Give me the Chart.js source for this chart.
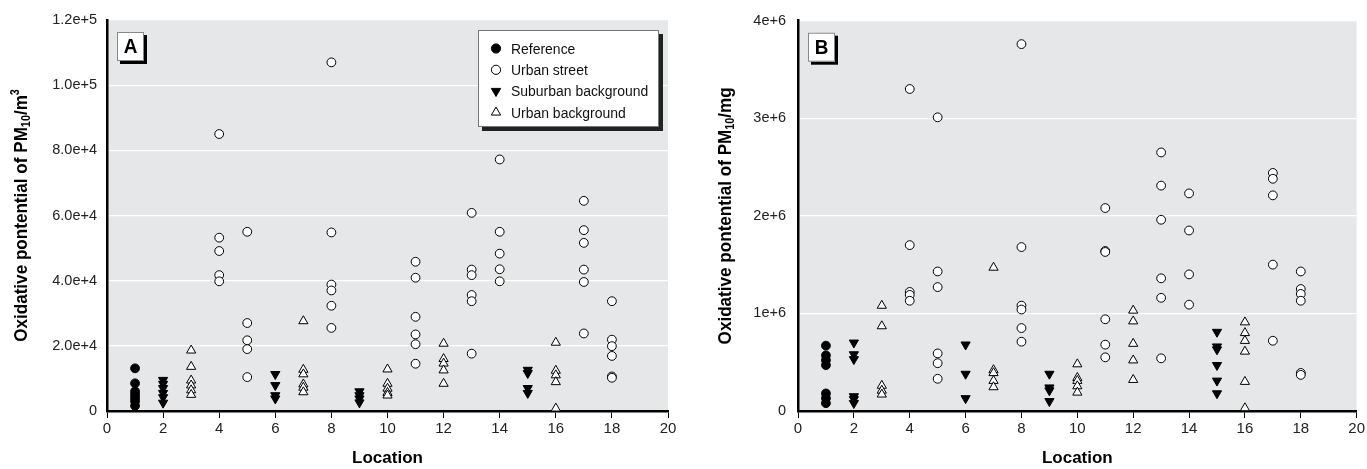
<!DOCTYPE html>
<html>
<head>
<meta charset="utf-8">
<script src="https://cdn.jsdelivr.net/npm/chart.js@4.4.1/dist/chart.umd.min.js"></script>
<style>
  html, body { margin: 0; padding: 0; background: #fff; }
  body { width: 1367px; height: 469px; position: relative; overflow: hidden; }
  .panel { position: absolute; top: 0; height: 469px; }
  #wrapA { left: 0; width: 683px; }
  #wrapB { left: 683px; width: 684px; }
</style>
</head>
<body>
<div class="panel" id="wrapA"><canvas id="chartA"></canvas></div>
<div class="panel" id="wrapB"><canvas id="chartB"></canvas></div>
<script>
// --- data, panel A (per m3) ---
const refLocA = [1, 1, 1, 1, 1, 1, 1];
const refValA = [13100, 8500, 6000, 5000, 4000, 3000, 1600];

const streetLocA = [4, 4, 4, 4, 4, 5, 5, 5, 5, 5, 8, 8, 8, 8, 8, 8, 11, 11, 11, 11, 11, 11,
  13, 13, 13, 13, 13, 13, 14, 14, 14, 14, 14, 17, 17, 17, 17, 17, 17, 18, 18, 18, 18, 18, 18];
const streetValA = [85000, 53200, 49100, 41700, 39800, 55000, 27000, 21700, 19000, 10400,
  107000, 54800, 38800, 37000, 32300, 25500, 45800, 40900, 28900, 23500, 20500, 14500,
  60800, 43400, 41700, 35600, 33700, 17600, 77200, 55000, 48300, 43500, 39800,
  64500, 55500, 51600, 43400, 39600, 23800, 33700, 21900, 19900, 16900, 10600, 10200];

const suburbLocA = [2, 2, 2, 2, 2, 2, 6, 6, 6, 6, 9, 9, 9, 9, 15, 15, 15, 15];
const suburbValA = [9500, 8300, 7000, 5500, 4200, 2500, 11300, 7900, 4800, 3800,
  6000, 4800, 3800, 2600, 12600, 11600, 7000, 5500];

const urbanBgLocA = [3, 3, 3, 3, 3, 3, 7, 7, 7, 7, 7, 7, 10, 10, 10, 10, 10, 12, 12, 12, 12, 12, 16, 16, 16, 16, 16];
const urbanBgValA = [18600, 13600, 9400, 7900, 6400, 5000, 27600, 12700, 11300, 8200, 7200, 5800,
  12800, 8400, 6900, 5600, 4800, 20700, 16000, 14600, 12500, 8400, 21000, 12400, 11000, 8900, 800];

// --- data, panel B (per mg) ---
const refLocB = [1, 1, 1, 1, 1, 1, 1];
const refValB = [670000, 570000, 520000, 470000, 180000, 130000, 80000];

const streetLocB = [4, 4, 4, 4, 4, 5, 5, 5, 5, 5, 5, 8, 8, 8, 8, 8, 8, 11, 11, 11, 11, 11, 11,
  13, 13, 13, 13, 13, 13, 14, 14, 14, 14, 17, 17, 17, 17, 17, 18, 18, 18, 18, 18, 18];
const streetValB = [3300000, 1700000, 1220000, 1190000, 1130000, 3010000, 1430000, 1270000, 590000, 490000, 330000,
  3760000, 1680000, 1080000, 1040000, 850000, 710000, 2080000, 1640000, 1630000, 940000, 680000, 550000,
  2650000, 2310000, 1960000, 1360000, 1160000, 540000, 2230000, 1850000, 1400000, 1090000,
  2440000, 2380000, 2210000, 1500000, 720000, 1430000, 1250000, 1200000, 1130000, 390000, 370000];

const suburbLocB = [2, 2, 2, 2, 2, 2, 6, 6, 6, 9, 9, 9, 9, 15, 15, 15, 15, 15, 15];
const suburbValB = [700000, 580000, 530000, 150000, 120000, 80000, 680000, 380000, 130000,
  380000, 240000, 210000, 100000, 810000, 660000, 630000, 470000, 310000, 180000];

const urbanBgLocB = [3, 3, 3, 3, 3, 7, 7, 7, 7, 7, 10, 10, 10, 10, 10, 12, 12, 12, 12, 12, 16, 16, 16, 16, 16, 16];
const urbanBgValB = [1080000, 870000, 260000, 210000, 170000, 1470000, 420000, 390000, 310000, 245000,
  480000, 340000, 310000, 255000, 190000, 1030000, 920000, 690000, 520000, 320000,
  910000, 800000, 720000, 610000, 300000, 30000];

// --- labels ---
const seriesNames = ['Reference', 'Urban street', 'Suburban background', 'Urban background'];
const yTicksA = ['0', '2.0e+4', '4.0e+4', '6.0e+4', '8.0e+4', '1.0e+5', '1.2e+5'];
const yTicksB = ['0', '1e+6', '2e+6', '3e+6', '4e+6'];

const FONT = '"Liberation Sans", Arial, sans-serif';
const PLOT_BG = '#e6e7e8';
const NARROW = 0.9; // the original uses a condensed face; squeeze our own drawn text a bit

function pts(locs, vals) {
  return locs.map((x, i) => ({ x: x, y: vals[i] }));
}

// marker styles per series (filled circle, open circle, filled down-triangle, open triangle)
const markerStyles = [
  { pointStyle: 'circle', pointRadius: 4.4, pointRotation: 0, pointBackgroundColor: '#000' },
  { pointStyle: 'circle', pointRadius: 4.4, pointRotation: 0, pointBackgroundColor: '#fff' },
  { pointStyle: 'triangle', pointRadius: 5.3, pointRotation: 180, pointBackgroundColor: '#000' },
  { pointStyle: 'triangle', pointRadius: 5.3, pointRotation: 0, pointBackgroundColor: '#fff' }
];

function makeDatasets(sets) {
  return sets.map((d, i) => Object.assign({
    label: seriesNames[i],
    data: d,
    pointBorderColor: '#000',
    pointBorderWidth: 1,
    pointHoverRadius: 5
  }, markerStyles[i]));
}

function narrowText(ctx, text, x, y) {
  ctx.save();
  ctx.translate(x, y);
  ctx.scale(NARROW, 1);
  ctx.fillText(text, 0, 0);
  ctx.restore();
}

// plot background, panel letter, legend, y title with sub/superscripts
const decorPlugin = {
  id: 'decor',
  beforeDraw(chart) {
    const a = chart.chartArea;
    const ctx = chart.ctx;
    ctx.save();
    ctx.fillStyle = PLOT_BG;
    ctx.fillRect(a.left, a.top, a.right - a.left, a.bottom - a.top);
    ctx.restore();
  },
  afterDraw(chart) {
    const o = chart.options.plugins.decor;
    const a = chart.chartArea;
    const ctx = chart.ctx;
    ctx.save();

    // panel letter box
    const bx = a.left + 10, by = a.top + 12, bw = 27, bh = 29;
    ctx.fillStyle = '#000';
    ctx.fillRect(bx + 3, by + 3, bw, bh);
    ctx.fillStyle = '#fff';
    ctx.fillRect(bx, by, bw, bh);
    ctx.strokeStyle = '#888';
    ctx.lineWidth = 1;
    ctx.strokeRect(bx + 0.5, by + 0.5, bw - 1, bh - 1);
    ctx.fillStyle = '#000';
    ctx.font = 'bold 21px ' + FONT;
    ctx.textAlign = 'center';
    ctx.textBaseline = 'middle';
    narrowText(ctx, o.letter, bx + bw / 2, by + bh / 2 + 1);

    // legend box (panel A only)
    if (o.legend) {
      const lw = 181, lh = 97;
      const lx = a.right - 9 - lw, ly = a.top + 10;
      ctx.fillStyle = '#222';
      ctx.fillRect(lx + 4, ly + 4, lw, lh);
      ctx.fillStyle = '#fff';
      ctx.fillRect(lx, ly, lw, lh);
      ctx.strokeStyle = '#777';
      ctx.strokeRect(lx + 0.5, ly + 0.5, lw - 1, lh - 1);
      ctx.font = '15.5px ' + FONT;
      ctx.textAlign = 'left';
      ctx.textBaseline = 'middle';
      chart.data.datasets.forEach((ds, i) => {
        const yy = ly + 18.5 + i * 21.3;
        ctx.fillStyle = ds.pointBackgroundColor;
        ctx.strokeStyle = '#000';
        ctx.lineWidth = 1;
        Chart.helpers.drawPoint(ctx, {
          pointStyle: ds.pointStyle,
          radius: ds.pointStyle === 'circle' ? 4.6 : 5.4,
          rotation: ds.pointRotation,
          borderWidth: 1
        }, lx + 18, yy);
        ctx.fillStyle = '#111';
        narrowText(ctx, ds.label, lx + 33, yy + 1);
      });
    }

    // y axis title, rotated, with PM10 subscript and unit superscript
    const parts = o.yTitle;
    const big = 'bold 19px ' + FONT, small = 'bold 12px ' + FONT;
    let total = 0;
    parts.forEach(p => { ctx.font = p.s ? small : big; total += ctx.measureText(p.t).width; });
    ctx.translate(o.yTitleX, (a.top + a.bottom) / 2);
    ctx.rotate(-Math.PI / 2);
    ctx.scale(NARROW, 1);
    ctx.fillStyle = '#000';
    ctx.textAlign = 'left';
    ctx.textBaseline = 'middle';
    let x = -total / 2;
    parts.forEach(p => {
      ctx.font = p.s ? small : big;
      ctx.fillText(p.t, x, p.s === 'sub' ? 5 : (p.s === 'sup' ? -6 : 0));
      x += ctx.measureText(p.t).width;
    });
    ctx.restore();
  }
};

function makeChart(id, sets, yMax, yStep, yLabels, cfg) {
  return new Chart(document.getElementById(id), {
    type: 'scatter',
    data: { datasets: makeDatasets(sets) },
    plugins: [decorPlugin],
    options: {
      responsive: true,
      maintainAspectRatio: false,
      animation: false,
      layout: { padding: { top: cfg.padTop, right: cfg.padRight, bottom: 0, left: 0 } },
      plugins: {
        legend: { display: false },
        tooltip: { enabled: true },
        decor: { letter: cfg.letter, legend: cfg.legend, yTitle: cfg.yTitle, yTitleX: cfg.yTitleX }
      },
      scales: {
        x: {
          type: 'linear',
          min: 0, max: 20,
          border: { display: true, color: '#000', width: 2.5 },
          grid: { drawOnChartArea: false, drawTicks: true, tickLength: 7, color: '#000', lineWidth: 1 },
          ticks: { stepSize: 2, color: '#222', font: { family: FONT, size: 15 }, padding: 2 },
          title: {
            display: true, text: 'Location', color: '#000',
            font: { family: FONT, size: 17, weight: 'bold' },
            padding: { top: 0, bottom: 0 }
          },
          afterFit(scale) { scale.height = 58; }
        },
        y: {
          type: 'linear',
          min: 0, max: yMax,
          border: { display: true, color: '#000', width: 2.5 },
          grid: { color: '#fff', lineWidth: 1.2, drawTicks: false },
          ticks: {
            stepSize: yStep,
            color: '#222',
            font: { family: FONT, size: 14.5 },
            padding: cfg.tickPad,
            callback: (v, i) => yLabels[i]
          },
          afterFit(scale) { scale.width = cfg.yWidth; }
        }
      }
    }
  });
}

document.addEventListener('DOMContentLoaded', () => {
  makeChart('chartA',
    [pts(refLocA, refValA), pts(streetLocA, streetValA), pts(suburbLocA, suburbValA), pts(urbanBgLocA, urbanBgValA)],
    120000, 20000, yTicksA,
    {
      letter: 'A', legend: true, padTop: 20, padRight: 15, yWidth: 107, tickPad: 10, yTitleX: 22,
      yTitle: [{ t: 'Oxidative pontential of PM' }, { t: '10', s: 'sub' }, { t: '/m' }, { t: '3', s: 'sup' }]
    });
  makeChart('chartB',
    [pts(refLocB, refValB), pts(streetLocB, streetValB), pts(suburbLocB, suburbValB), pts(urbanBgLocB, urbanBgValB)],
    4000000, 1000000, yTicksB,
    {
      letter: 'B', legend: false, padTop: 18, padRight: 6, yWidth: 115, tickPad: 12, yTitleX: 43,
      yTitle: [{ t: 'Oxidative pontential of PM' }, { t: '10', s: 'sub' }, { t: '/mg' }]
    });
});
</script>
</body>
</html>
